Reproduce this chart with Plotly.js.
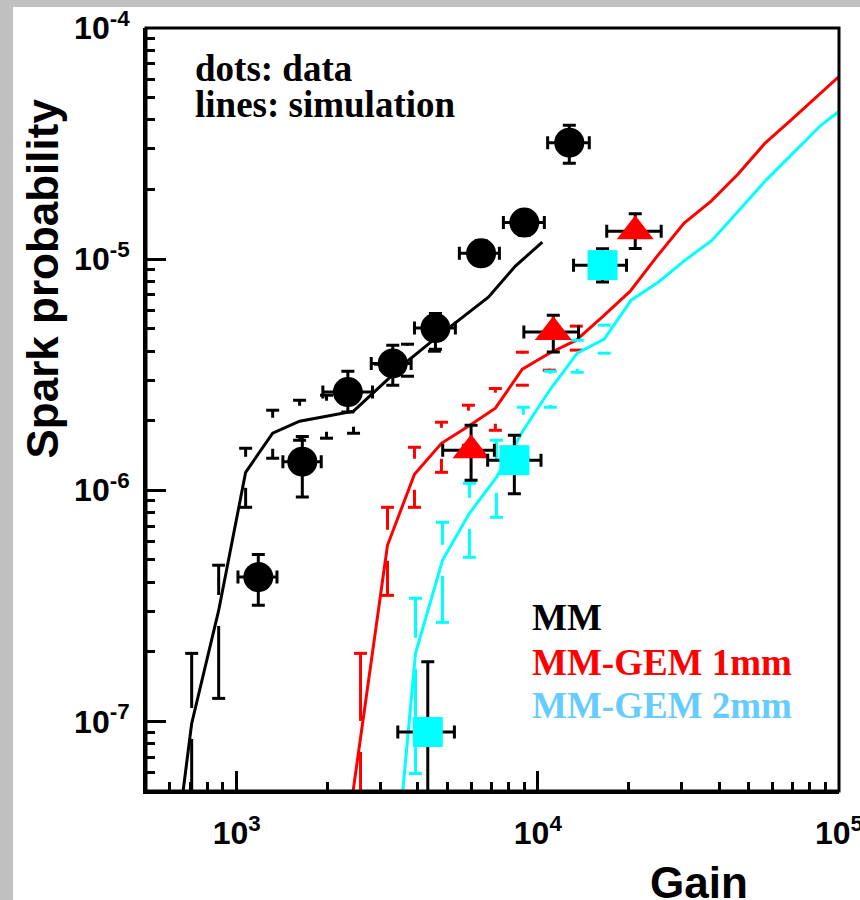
<!DOCTYPE html>
<html><head><meta charset="utf-8">
<script src="https://cdn.plot.ly/plotly-3.0.1.min.js"></script>
<style>
html,body{margin:0;padding:0;background:#c0c0c0;width:860px;height:900px;overflow:hidden;}
#chart{position:absolute;left:13px;top:7px;width:847px;height:893px;background:#fff;}
</style></head><body><div id="chart"></div>
<script>
// ---------------- data: measured points (dots) ----------------
const mmX     = [1180, 1652, 2340, 3299, 4571, 6480, 9020, 12720];
const mmXLow  = [1010, 1424, 1933, 2798, 3894, 5489, 7685, 10780];
const mmXHigh = [1361, 1909, 2825, 3796, 5324, 7454, 10510, 14820];
const mmY     = [4.21e-7, 1.33e-6, 2.66e-6, 3.54e-6, 5.03e-6, 1.06e-5, 1.44e-5, 3.19e-5];
const mmYLow  = [3.18e-7, 9.35e-7, 2.18e-6, 2.85e-6, 4.08e-6, 9.4e-6, 1.27e-5, 2.60e-5];
const mmYHigh = [5.28e-7, 1.71e-6, 3.27e-6, 4.24e-6, 5.82e-6, 1.20e-5, 1.62e-5, 3.80e-5];

const g1X     = [6003, 11255, 21055];
const g1XLow  = [4833, 8987, 16936];
const g1XHigh = [7173, 13655, 25680];
const g1Y     = [1.49e-6, 4.84e-6, 1.32e-5];
const g1YLow  = [1.105e-6, 3.97e-6, 1.112e-5];
const g1YHigh = [1.911e-6, 5.72e-6, 1.57e-5];

const g2X     = [4311, 8357, 16400];
const g2XLow  = [3428, 6815, 13140];
const g2XHigh = [5284, 10246, 19700];
const g2Y     = [9.0e-8, 1.35e-6, 9.42e-6];
const g2YLow  = [3.0e-8, 9.67e-7, 7.97e-6];
const g2YHigh = [1.81e-7, 1.73e-6, 1.11e-5];

// ---------------- data: simulation (lines) ----------------
const simMmX = [577, 709, 871.5, 1071, 1317, 1618, 1988, 2444, 3003, 3692, 4536, 5576, 6852, 8422, 10350];
const simMmY = [1.18e-8, 9.80e-8, 3.02e-7, 1.196e-6, 1.765e-6, 1.989e-6, 2.091e-6, 2.198e-6, 2.82e-6, 3.618e-6, 4.505e-6, 5.553e-6, 6.846e-6, 9.33e-6, 1.185e-5];
const simMmUp  = [null, 1.97e-7, 4.74e-7, 1.52e-6, 2.22e-6, 2.452e-6, 2.577e-6, 2.736e-6, 3.51e-6, 4.285e-6, 5.44e-6, null, null, null, null];
const simMmLow = [null, 2e-8, 1.258e-7, 8.44e-7, 1.376e-6, 1.646e-6, 1.68e-6, 1.765e-6, 2.71e-6, 3.115e-6, 3.997e-6, null, null, null, null];

const simG1X = [2098, 2578, 3168, 3894, 4786, 5882, 7228, 8884, 10917, 13418, 16489, 20266, 24905, 30610, 37630, 46240, 56840, 69850, 85840, 105500];
const simG1Y = [1.245e-8, 8.61e-8, 5.78e-7, 1.173e-6, 1.597e-6, 1.893e-6, 2.265e-6, 3.341e-6, 3.918e-6, 4.46e-6, 5.664e-6, 7.269e-6, 1.030e-5, 1.432e-5, 1.783e-5, 2.333e-5, 3.178e-5, 4.037e-5, 5.129e-5, 6.578e-5];
const simG1Up  = [null, 1.97e-7, 8.44e-7, 1.535e-6, 1.97e-6, 2.333e-6, 2.756e-6, 3.957e-6, 4.64e-6, 5.13e-6, null, null, null, null, null, null, null, null, null, null];
const simG1Low = [null, 2e-8, 3.51e-7, 8.44e-7, 1.196e-6, 1.566e-6, 1.818e-6, 2.848e-6, 3.308e-6, 4.04e-6, null, null, null, null, null, null, null, null, null, null];

const simG2X = [3192, 3925, 4824, 5927, 7285, 8952, 11002, 13520, 16616, 20420, 25100, 30840, 37910, 46600, 57270, 70380, 86490, 106300];
const simG2Y = [1.072e-8, 1.97e-7, 4.977e-7, 7.95e-7, 1.138e-6, 1.818e-6, 2.736e-6, 3.918e-6, 4.505e-6, 6.645e-6, 7.95e-6, 9.90e-6, 1.208e-5, 1.630e-5, 2.198e-5, 2.876e-5, 3.765e-5, 4.642e-5];
const simG2Up  = [null, 3.41e-7, 7.27e-7, 1.072e-6, 1.646e-6, 2.287e-6, 3.274e-6, 4.46e-6, 5.18e-6, null, null, null, null, null, null, null, null, null];
const simG2Low = [null, 5.95e-8, 2.683e-7, 5.13e-7, 7.64e-7, 1.376e-6, 2.287e-6, 3.24e-6, 3.918e-6, null, null, null, null, null, null, null, null, null];

// ---------------- ticks ----------------
const xTickVals = [1e3, 1e4, 1e5];
const xTickText = ['10<sup>3</sup>', '10<sup>4</sup>', '10<sup>5</sup>'];
const yTickVals = [1e-7, 1e-6, 1e-5, 1e-4];
const yTickText = ['10<sup>-7</sup>', '10<sup>-6</sup>', '10<sup>-5</sup>', '10<sup>-4</sup>'];
const xMinor = [];
[100, 1000, 10000].forEach(d => { for (let k = 2; k <= 9; k++) { const v = k * d; if (v > 500 && v < 1e5) xMinor.push(v); } });
const yMinor = [];
[1e-8, 1e-7, 1e-6, 1e-5].forEach(d => { for (let k = 2; k <= 9; k++) { const v = k * d; if (v > 5.01e-8 && v < 1e-4) yMinor.push(v); } });

// ---------------- styling constants ----------------
const RED = '#ff0000', CYAN = '#00ffff', LEG_CYAN = '#66ccff';
const GAP_DEX = 15.5 / 231;   // marker gap around simulated points (ROOT style)
const CAP_DEX = 6.5 / 301.5;  // half-width of error-bar caps on log x

function simBars(xs, ys, ups, lows) {
  const g = Math.pow(10, GAP_DEX), c = Math.pow(10, CAP_DEX);
  const X = [], Y = [];
  for (let i = 0; i < xs.length; i++) {
    if (ups[i] != null) {
      if (ups[i] > ys[i] * g) { X.push(xs[i], xs[i], null); Y.push(ys[i] * g, ups[i], null); }
      if (ups[i] > ys[i] * Math.pow(10, 0.03)) { X.push(xs[i] / c, xs[i] * c, null); Y.push(ups[i], ups[i], null); }
    }
    if (lows[i] != null) {
      if (lows[i] < ys[i] / g) { X.push(xs[i], xs[i], null); Y.push(ys[i] / g, lows[i], null); }
      if (lows[i] < ys[i] / Math.pow(10, 0.03)) { X.push(xs[i] / c, xs[i] * c, null); Y.push(lows[i], lows[i], null); }
    }
  }
  return { X, Y };
}

function simTraces(xs, ys, ups, lows, color) {
  const b = simBars(xs, ys, ups, lows);
  return [
    { x: xs, y: ys, mode: 'lines', line: { color: color, width: 3 }, hoverinfo: 'skip' },
    { x: b.X, y: b.Y, mode: 'lines', line: { color: color, width: 3 }, connectgaps: false, hoverinfo: 'skip' }
  ];
}

function dataTrace(x, xl, xh, y, yl, yh, symbol, size, color) {
  return {
    x: x, y: y, mode: 'markers',
    marker: { symbol: symbol, size: size, color: color, line: { width: 0 } },
    error_x: { type: 'data', symmetric: false, array: x.map((v, i) => xh[i] - v), arrayminus: x.map((v, i) => v - xl[i]), color: 'black', thickness: 3, width: 6.5 },
    error_y: { type: 'data', symmetric: false, array: y.map((v, i) => yh[i] - v), arrayminus: y.map((v, i) => v - yl[i]), color: 'black', thickness: 3, width: 6.5 }
  };
}

const traces = [].concat(
  simTraces(simMmX, simMmY, simMmUp, simMmLow, 'black'),
  simTraces(simG1X, simG1Y, simG1Up, simG1Low, RED),
  simTraces(simG2X, simG2Y, simG2Up, simG2Low, CYAN),
  [dataTrace(mmX, mmXLow, mmXHigh, mmY, mmYLow, mmYHigh, 'circle', 30, 'black'),
   dataTrace(g1X, g1XLow, g1XHigh, g1Y, g1YLow, g1YHigh, 'triangle-up', 32, RED),
   dataTrace(g2X, g2XLow, g2XHigh, g2Y, g2YLow, g2YHigh, 'square', 30, CYAN)]
);

// page-pixel -> paper coordinates (plot area on the page: x 146..839, y 28..791)
const PL = 146, PW = 693, PB = 791, PH = 763;
const px = v => (v - PL) / PW;
const py = v => (PB - v) / PH;

const serif = { family: 'Liberation Serif, Times New Roman, serif', size: 37, color: 'black', weight: 'bold' };
const sans = { family: 'Liberation Sans, Arial, sans-serif', size: 44, color: 'black', weight: 'bold' };

const annotations = [
  { text: 'dots: data', x: px(193), y: py(69), xanchor: 'left', yanchor: 'middle', font: serif },
  { text: 'lines: simulation', x: px(193), y: py(104), xanchor: 'left', yanchor: 'middle', font: serif },
  { text: 'MM', x: px(530), y: py(617), xanchor: 'left', yanchor: 'middle', font: serif },
  { text: 'MM-GEM 1mm', x: px(530), y: py(662), xanchor: 'left', yanchor: 'middle', font: Object.assign({}, serif, { color: RED }) },
  { text: 'MM-GEM 2mm', x: px(530), y: py(705), xanchor: 'left', yanchor: 'middle', font: Object.assign({}, serif, { color: LEG_CYAN }) },
  { text: 'Spark probability', x: px(42), y: py(278.5), xanchor: 'center', yanchor: 'middle', textangle: -90, font: sans },
  { text: 'Gain', x: px(648), y: py(882), xanchor: 'left', yanchor: 'middle', font: sans }
].map(a => Object.assign({ xref: 'paper', yref: 'paper', showarrow: false }, a));

const axisCommon = {
  type: 'log', tickmode: 'array', ticks: 'inside', ticklen: 20, tickwidth: 3, tickcolor: 'black',
  showline: true, linewidth: 3, linecolor: 'black', mirror: false, showgrid: false, zeroline: false,
  ticklabeloverflow: 'allow',
  tickfont: { family: 'Liberation Sans, Arial, sans-serif', size: 32, color: 'black', weight: 'bold' }
};

const layout = {
  width: 847, height: 893,
  margin: { l: 133, r: 21, t: 21, b: 109 },
  paper_bgcolor: 'white', plot_bgcolor: 'white', showlegend: false,
  xaxis: Object.assign({}, axisCommon, {
    range: [Math.log10(500), 5], tickvals: xTickVals, ticktext: xTickText, ticklabelstandoff: 12,
    minor: { tickmode: 'array', tickvals: xMinor, ticks: 'inside', ticklen: 9, tickwidth: 3, tickcolor: 'black', showgrid: false }
  }),
  yaxis: Object.assign({}, axisCommon, {
    range: [Math.log10(5e-8), -4], tickvals: yTickVals, ticktext: yTickText, ticklabelstandoff: 7,
    minor: { tickmode: 'array', tickvals: yMinor, ticks: 'inside', ticklen: 9, tickwidth: 3, tickcolor: 'black', showgrid: false }
  }),
  shapes: [{ type: 'rect', xref: 'paper', yref: 'paper', x0: 0, x1: 1, y0: 0, y1: 1, line: { color: 'black', width: 3 }, layer: 'above' }],
  annotations: annotations
};

Plotly.newPlot('chart', traces, layout, { displayModeBar: false, staticPlot: true });
</script></body></html>
